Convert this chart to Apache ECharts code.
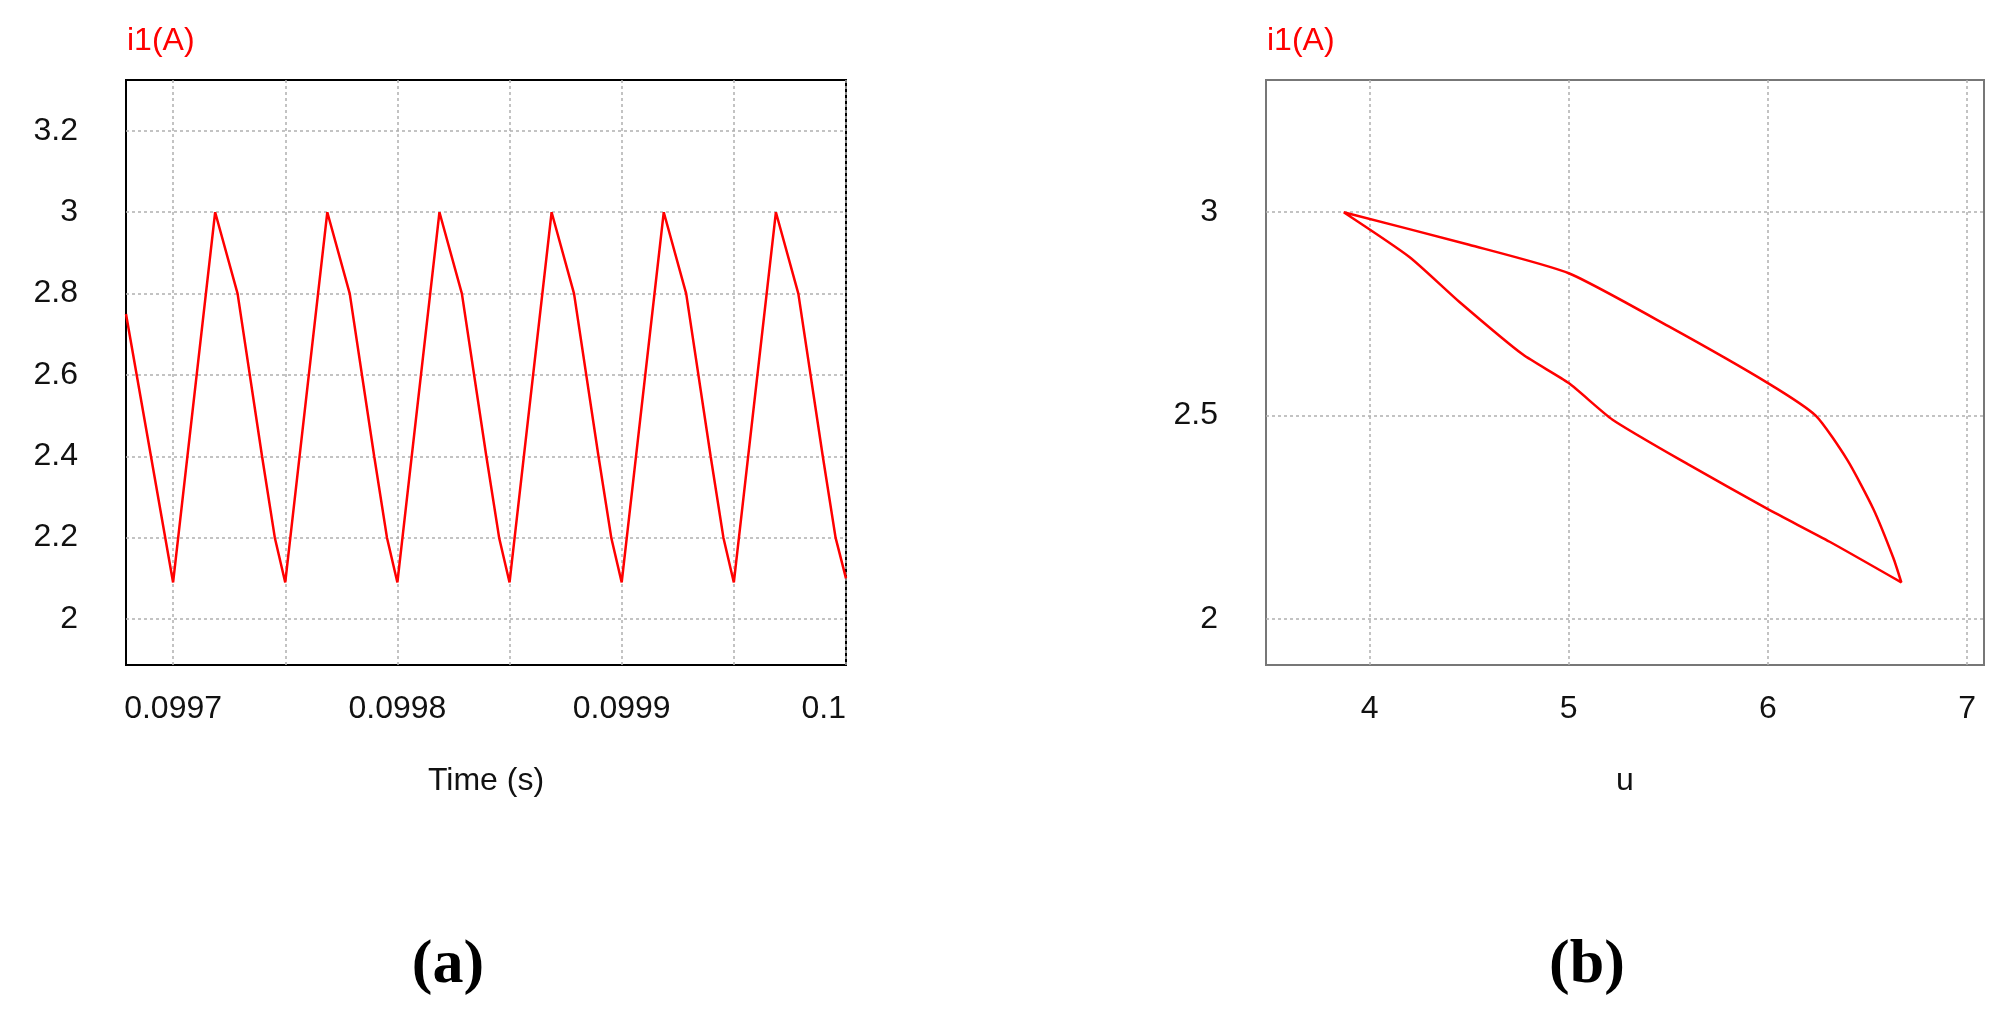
<!DOCTYPE html>
<html>
<head>
<meta charset="UTF-8">
<script src="https://cdn.jsdelivr.net/npm/echarts@6/dist/echarts.min.js"></script>
<style>body{margin:0;background:#fff}#c{width:2001px;height:1011px}</style>
</head>
<body>
<div id="c"></div>
<script>
// (a) i1 vs time
var timeS = [0.099679, 0.0997,
  0.09971875, 0.09972875, 0.09973965, 0.09974535, 0.09975,
  0.09976875, 0.09977875, 0.09978965, 0.09979535, 0.0998,
  0.09981875, 0.09982875, 0.09983965, 0.09984535, 0.09985,
  0.09986875, 0.09987875, 0.09988965, 0.09989535, 0.0999,
  0.09991875, 0.09992875, 0.09993965, 0.09994535, 0.09995,
  0.09996875, 0.09997875, 0.09998965, 0.09999535, 0.1];
var i1Time = [2.75, 2.09,
  3.0, 2.8, 2.4, 2.2, 2.09,
  3.0, 2.8, 2.4, 2.2, 2.09,
  3.0, 2.8, 2.4, 2.2, 2.09,
  3.0, 2.8, 2.4, 2.2, 2.09,
  3.0, 2.8, 2.4, 2.2, 2.09,
  3.0, 2.8, 2.4, 2.2, 2.10];
// (b) i1 vs u loop (upper branch then lower branch)
var uVals = [3.87, 4.5, 5.0, 5.5, 6.0, 6.24, 6.4, 6.53, 6.63, 6.67,
  6.31, 6.0, 5.6, 5.22, 5.0, 4.77, 4.45, 4.2, 3.87];
var i1Loop = [3.0, 2.92, 2.85, 2.72, 2.58, 2.5, 2.39, 2.27, 2.15, 2.09,
  2.19, 2.27, 2.38, 2.49, 2.58, 2.65, 2.78, 2.89, 3.0];

var timeGrid = [0.0997, 0.09975, 0.0998, 0.09985, 0.0999, 0.09995, 0.1];
var timeLabels = [0.0997, 0.0998, 0.0999, 0.1];
var yTicksA = [2, 2.2, 2.4, 2.6, 2.8, 3, 3.2];
var uTicks = [4, 5, 6, 7];
var yTicksB = [2, 2.5, 3];

var font = 'Liberation Sans';
var split = {show: true, lineStyle: {color: '#b0b0b0', type: [3, 3], width: 1.5}};
var lbl = {color: '#111', fontSize: 32, fontFamily: font};

var chart = echarts.init(document.getElementById('c'));
chart.setOption({
  animation: false,
  title: [
    {text: '(a)', left: 443, top: 930, textAlign: 'center', textStyle: {fontFamily: 'Liberation Serif', fontWeight: 'bold', fontSize: 62, color: '#000'}},
    {text: '(b)', left: 1582, top: 930, textAlign: 'center', textStyle: {fontFamily: 'Liberation Serif', fontWeight: 'bold', fontSize: 62, color: '#000'}},
    {text: 'i1(A)', left: 122, top: 20, textStyle: {fontFamily: font, fontWeight: 'normal', fontSize: 32, color: '#f00'}},
    {text: 'i1(A)', left: 1262, top: 20, textStyle: {fontFamily: font, fontWeight: 'normal', fontSize: 32, color: '#f00'}}
  ],
  grid: [
    {left: 126, top: 80, width: 720, height: 585, show: true, borderColor: '#000', borderWidth: 2, backgroundColor: 'transparent'},
    {left: 1266, top: 80, width: 718, height: 585, show: true, borderColor: '#777', borderWidth: 2, backgroundColor: 'transparent'}
  ],
  xAxis: [
    {type: 'value', gridIndex: 0, min: 0.099679, max: 0.1, name: 'Time (s)', nameLocation: 'middle', nameGap: 100,
      nameTextStyle: {fontSize: 32, fontFamily: font, color: '#111'},
      axisLine: {show: false}, axisTick: {show: true, length: 0, customValues: timeGrid},
      axisLabel: Object.assign({customValues: timeLabels, margin: 28, alignMaxLabel: 'right', formatter: function (v) { return String(+v.toFixed(4)); }}, lbl),
      splitLine: split},
    {type: 'value', gridIndex: 1, min: 3.48, max: 7.085, name: 'u', nameLocation: 'middle', nameGap: 100,
      nameTextStyle: {fontSize: 32, fontFamily: font, color: '#111'},
      axisLine: {show: false}, axisTick: {show: true, length: 0, customValues: uTicks},
      axisLabel: Object.assign({customValues: uTicks, margin: 28}, lbl),
      splitLine: split}
  ],
  yAxis: [
    {type: 'value', gridIndex: 0, min: 1.887, max: 3.325,
      axisLine: {show: false}, axisTick: {show: true, length: 0, customValues: yTicksA},
      axisLabel: Object.assign({customValues: yTicksA, margin: 48}, lbl),
      splitLine: split},
    {type: 'value', gridIndex: 1, min: 1.887, max: 3.325,
      axisLine: {show: false}, axisTick: {show: true, length: 0, customValues: yTicksB},
      axisLabel: Object.assign({customValues: yTicksB, margin: 48}, lbl),
      splitLine: split}
  ],
  series: [
    {type: 'line', xAxisIndex: 0, yAxisIndex: 0, showSymbol: false,
      lineStyle: {color: '#f00', width: 2.5}, data: timeS.map(function (t, k) { return [t, i1Time[k]]; })},
    {type: 'line', xAxisIndex: 1, yAxisIndex: 1, showSymbol: false, smooth: 0.2,
      lineStyle: {color: '#f00', width: 2.5}, data: uVals.map(function (u, k) { return [u, i1Loop[k]]; })}
  ]
});
</script>
</body>
</html>
